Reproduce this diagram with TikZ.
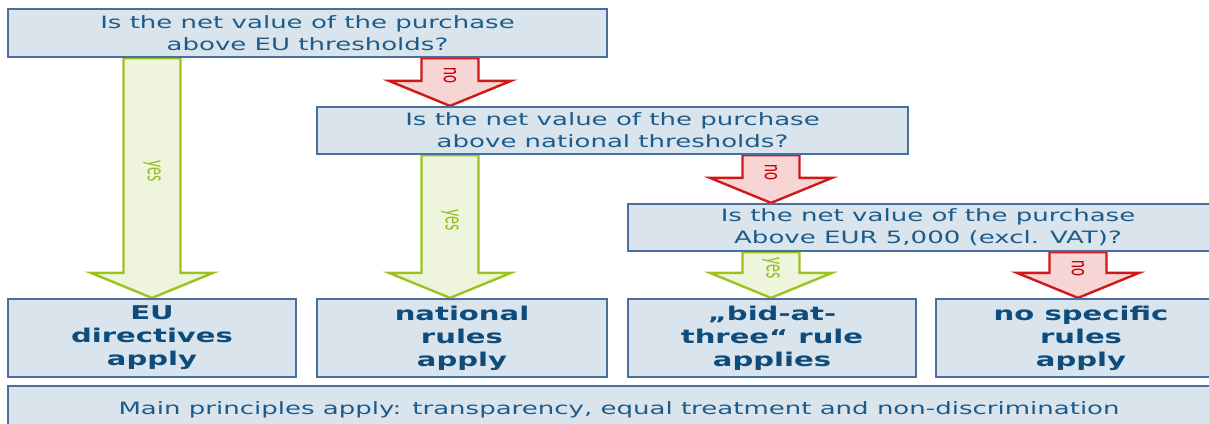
\documentclass[tikz,border=0pt]{standalone}
\usepackage{graphicx}
\usepackage{fontspec}
\setmainfont{DejaVu Sans}[FakeStretch=1.53]
\newfontfamily\lblfont{Carlito}
\usetikzlibrary{calc}
\definecolor{boxfill}{HTML}{D9E4ED}
\definecolor{boxline}{HTML}{4A6F9C}
\definecolor{boxtext}{HTML}{1D5B8A}
\definecolor{boldtext}{HTML}{0E4C7C}
\definecolor{gfill}{HTML}{EEF5DC}
\definecolor{gline}{HTML}{9DC21E}
\definecolor{gtext}{HTML}{92C020}
\definecolor{rfill}{HTML}{F7D5D5}
\definecolor{rline}{HTML}{D01818}
\definecolor{rtext}{HTML}{C00000}
\pgfdeclarelayer{bg}
\pgfsetlayers{bg,main}
\tikzset{
  qbox/.style={draw=boxline, fill=boxfill, line width=2.2pt, inner sep=0pt,
    align=center, text=boxtext, font=\fontsize{17}{22}\selectfont},
  abox/.style={draw=boxline, fill=boxfill, line width=2.2pt, inner sep=0pt,
    align=center, text=boldtext, minimum height=78pt,
    font=\fontsize{19}{23}\selectfont\bfseries},
  yesarrow/.style={draw=gline, fill=gfill, line width=2.4pt},
  noarrow/.style={draw=rline, fill=rfill, line width=2.4pt},
  yeslbl/.style={text=gtext, rotate=-90, inner sep=0pt,
    font=\lblfont\fontsize{16}{16}\selectfont},
  nolbl/.style={text=rtext, rotate=-90, inner sep=0pt,
    font=\lblfont\fontsize{15}{15}\selectfont}
}
% #1 arrow style, #2 x centre (px), #3 from node, #4 to node, #5 label style, #6 label
\newcommand{\blkarrow}[6]{%
  \begin{pgfonlayer}{bg}
  \path[#1] let \p1=(#3.south), \p2=(#4.north) in
    (#2pt-28.5pt,\y1) -- (#2pt+28.5pt,\y1) -- (#2pt+28.5pt,\y2+25pt)
    -- (#2pt+61pt,\y2+25pt) -- (#2pt,\y2) -- (#2pt-61pt,\y2+25pt)
    -- (#2pt-28.5pt,\y2+25pt) -- cycle
    node[#5] at (#2pt,{(\y1+\y2+25pt)/2-6pt}) {\scalebox{1}[1.7]{#6}};
  \end{pgfonlayer}}
\begin{document}
\begin{tikzpicture}[x=1pt,y=-1pt]
\useasboundingbox (0,0) rectangle (1209,423);
\clip (0,0) rectangle (1209,423);
\node[qbox, minimum width=599pt, minimum height=48pt] (q1) at (307.5,33)
  {Is the net value of the purchase\\above EU thresholds?};
\node[qbox, minimum width=591pt, minimum height=47pt] (q2) at (612.5,130.5)
  {Is the net value of the purchase\\above national thresholds?};
\node[qbox, minimum width=600pt, minimum height=47pt] (q3) at (928,227.5)
  {Is the net value of the purchase\\Above EUR 5,000 (excl. VAT)?};
\node[abox, minimum width=288pt] (r1) at (152,338) {EU\\directives\\apply};
\node[abox, minimum width=290pt] (r2) at (462,338) {national\\rules\\apply};
\node[abox, minimum width=288pt] (r3) at (772,338) {„bid-at-\\three“ rule\\applies};
\node[abox, minimum width=290pt] (r4) at (1081,338) {no specific\\rules\\apply};
\node[qbox, minimum width=1222pt, minimum height=48pt] (p) at (619,410)
  {Main principles apply: transparency, equal treatment and non-discrimination};
\blkarrow{yesarrow}{152}{q1}{r1}{yeslbl}{yes}
\blkarrow{noarrow}{450}{q1}{q2}{nolbl}{no}
\blkarrow{yesarrow}{450}{q2}{r2}{yeslbl}{yes}
\blkarrow{noarrow}{771}{q2}{q3}{nolbl}{no}
\blkarrow{yesarrow}{771}{q3}{r3}{yeslbl}{yes}
\blkarrow{noarrow}{1078}{q3}{r4}{nolbl}{no}
\end{tikzpicture}
\end{document}
